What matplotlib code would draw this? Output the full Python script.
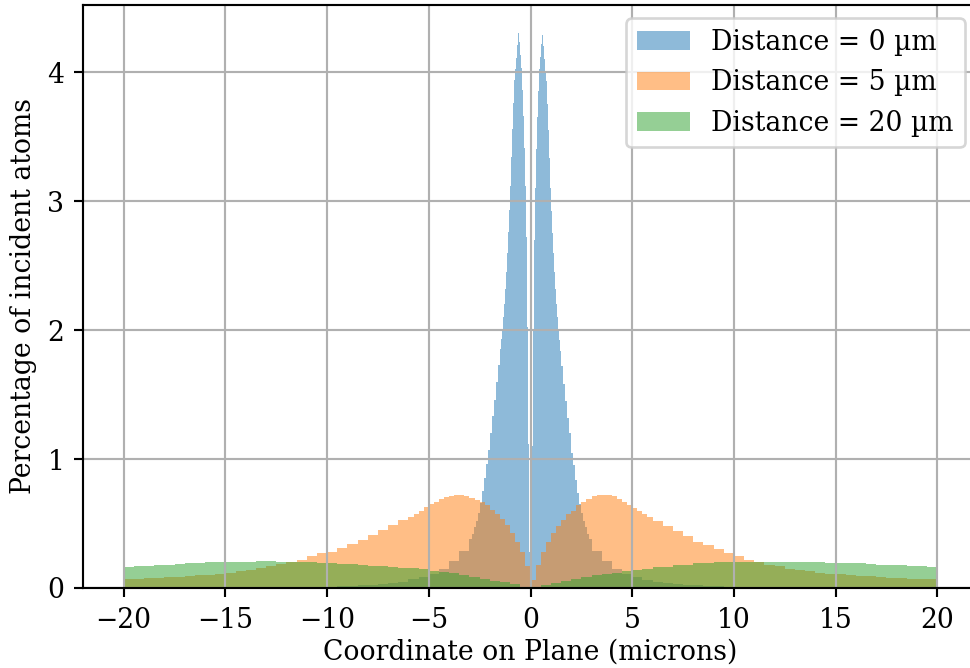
import numpy as np
import matplotlib
matplotlib.use('Agg')
import matplotlib.pyplot as plt

plt.rcParams['font.family'] = 'serif'

# Bin edges (microns) for each histogram
blue_edges = np.concatenate([
    np.arange(-10, -3, 0.5),
    np.arange(-3, -1.5, 0.1),
    np.arange(-1.5, 1.5, 0.05),
    np.arange(1.5, 3, 0.1),
    np.arange(3, 10.01, 0.5),
])
orange_edges = np.concatenate([
    np.arange(-20, -6, 0.5),
    np.arange(-6, 6, 0.25),
    np.arange(6, 20.01, 0.5),
])
green_edges = np.arange(-20, 20.01, 0.5)

# Percentage of incident atoms per bin
dist0 = [
    0.01, 0.012, 0.016, 0.02, 0.026, 0.031, 0.04, 0.05, 0.066, 0.086, 0.11, 0.15, 0.21, 0.29,
    0.38, 0.42, 0.47, 0.52, 0.58, 0.66, 0.75, 0.85, 0.96, 1.07, 1.2, 1.33, 1.46, 1.6, 1.73,
    1.85, 1.93, 2.01, 2.1, 2.2, 2.32, 2.45, 2.6, 2.76, 2.93, 3.12, 3.34, 3.56, 3.76, 3.94,
    4.02, 4.11, 4.21, 4.3, 4.23, 4.13, 4.03, 3.86, 3.66, 3.41, 3.12, 2.72, 2.02, 1.12, 0.28,
    0.3, 1.1, 2.0, 2.7, 3.1, 3.4, 3.65, 3.85, 4.02, 4.12, 4.22, 4.29, 4.2, 4.1, 4.0,
    3.93, 3.75, 3.55, 3.33, 3.1, 2.92, 2.75, 2.6, 2.45, 2.32, 2.2, 2.1, 2.0, 1.92, 1.84,
    1.72, 1.58, 1.45, 1.32, 1.2, 1.05, 0.95, 0.84, 0.74, 0.65, 0.58, 0.52, 0.47, 0.42, 0.38,
    0.29, 0.21, 0.15, 0.11, 0.085, 0.065, 0.05, 0.04, 0.03, 0.025, 0.02, 0.015, 0.012, 0.01,
]
dist5 = [
    0.066, 0.07, 0.074, 0.078, 0.082, 0.086, 0.092, 0.097, 0.104, 0.11,
    0.12, 0.13, 0.14, 0.155, 0.17, 0.185, 0.20, 0.22, 0.245, 0.27,
    0.28, 0.31, 0.34, 0.37, 0.41, 0.45, 0.49, 0.53,
    0.55, 0.575, 0.60, 0.625, 0.65, 0.67, 0.69, 0.705, 0.715, 0.72, 0.72, 0.715,
    0.70, 0.685, 0.665, 0.64, 0.605, 0.575, 0.535, 0.485, 0.43, 0.36, 0.28, 0.17,
    0.06, 0.18, 0.28, 0.36, 0.43, 0.48, 0.53, 0.57, 0.60, 0.64, 0.67, 0.69,
    0.71, 0.72, 0.72, 0.72, 0.71, 0.69, 0.67, 0.64, 0.62, 0.60, 0.57, 0.55,
    0.52, 0.48, 0.44, 0.40, 0.36, 0.33, 0.30, 0.27,
    0.25, 0.22, 0.20, 0.18, 0.17, 0.15, 0.14, 0.13, 0.12, 0.11,
    0.105, 0.10, 0.095, 0.09, 0.085, 0.08, 0.077, 0.073, 0.07, 0.067,
]
dist20 = [
    0.165, 0.17, 0.172, 0.178, 0.182, 0.186, 0.19, 0.195, 0.198, 0.2,
    0.203, 0.205, 0.205, 0.206, 0.206, 0.205, 0.204, 0.2, 0.198, 0.195,
    0.192, 0.188, 0.183, 0.178, 0.173, 0.168, 0.163, 0.158, 0.152, 0.145,
    0.135, 0.125, 0.113, 0.1, 0.087, 0.073, 0.058, 0.043, 0.028, 0.01,
    0.01, 0.025, 0.04, 0.055, 0.07, 0.085, 0.10, 0.11, 0.12, 0.13,
    0.14, 0.15, 0.16, 0.165, 0.175, 0.18, 0.19, 0.195, 0.20, 0.20,
    0.205, 0.205, 0.205, 0.205, 0.205, 0.20, 0.20, 0.20, 0.20, 0.195,
    0.195, 0.19, 0.19, 0.185, 0.18, 0.18, 0.175, 0.17, 0.17, 0.165,
]
labels = ['Distance = 0 µm', 'Distance = 5 µm', 'Distance = 20 µm']

DPI = 192
fig = plt.figure(figsize=(970 / DPI, 668 / DPI), dpi=DPI)
ax = fig.add_axes([83 / 970, 80 / 668, (978 - 83) / 970, 583 / 668])

ax.stairs(dist0, blue_edges, fill=True, alpha=0.5, color='tab:blue', label=labels[0])
ax.stairs(dist5, orange_edges, fill=True, alpha=0.5, color='tab:orange', label=labels[1])
ax.stairs(dist20, green_edges, fill=True, alpha=0.5, color='tab:green', label=labels[2])

ax.set_xlim(-22, 22)
ax.set_ylim(0, 4.52)
ax.set_xticks(np.arange(-20, 21, 5))
ax.set_yticks(np.arange(0, 5, 1))
ax.set_xlabel('Coordinate on Plane (microns)', labelpad=2)
ax.set_ylabel('Percentage of incident atoms')
ax.grid(True)
ax.legend(loc='upper right')

fig.savefig('out.png', dpi=DPI)
